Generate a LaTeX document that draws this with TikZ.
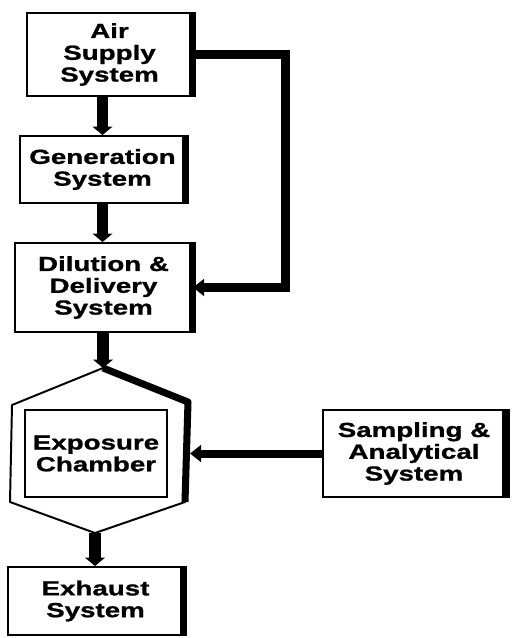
\documentclass[tikz,border=0pt]{standalone}
\usepackage{fontspec}
\newfontfamily\labelfont{Liberation Sans}[FakeStretch=1.36,BoldFeatures={FakeBold=1.1}]
\usetikzlibrary{arrows.meta}

\begin{document}
\begin{tikzpicture}[
    font=\labelfont\bfseries\fontsize{14.5}{15.5}\selectfont,
    unit/.style={draw, line width=1.4pt, align=center, inner sep=0pt},
    flow/.style={line width=8.5pt, -{Triangle[width=14pt,length=6pt]}},
    duct/.style={line width=6.4pt, -{Triangle[width=12pt,length=8pt]}},
    heavy/.style={line width=5pt}]
  \useasboundingbox (0,0) rectangle (12.8,-15.95);
  \node[unit, minimum width=4.125cm, minimum height=2.075cm] (air) at (2.7375,-1.3625) {Air\\Supply\\System};
  \node[unit, minimum width=4.125cm, minimum height=1.675cm] (gen) at (2.5625,-4.2375) {Generation\\System};
  \node[unit, minimum width=4.425cm, minimum height=2.225cm] (dil) at (2.5875,-7.1875) {Dilution \&\\Delivery\\System};
  \node[unit, minimum width=4.55cm, minimum height=2.175cm] (samp) at (10.35,-11.3375) {Sampling \&\\Analytical\\System};
  \node[unit, minimum width=4.375cm, minimum height=1.7cm] (exh) at (2.3875,-15.025) {Exhaust\\System};
  \foreach \n in {air,gen,dil,samp,exh}
    \draw[heavy] (\n.north east) -- (\n.south east);

  \coordinate (chtop) at (2.575,-9.2);
  \coordinate (ur) at (4.7,-10.05);
  \coordinate (lr) at (4.625,-12.55);
  \coordinate (chbot) at (2.375,-13.325);
  \coordinate (ll) at (0.25,-12.55);
  \coordinate (ul) at (0.3,-10.125);
  \coordinate (chport) at (4.75,-11.3375);
  \draw[line width=1.4pt, line join=round] (chtop) -- (ur) -- (lr) -- (chbot) -- (ll) -- (ul) -- cycle;
  \draw[heavy, line join=round] (chtop) -- (ur) -- (lr);
  \node[unit, minimum width=3.55cm, minimum height=2.175cm] (chamber) at (2.4,-11.3375) {Exposure\\Chamber};

  \draw[flow] (gen.north |- air.south) -- (gen.north);
  \draw[flow] (gen.south) -- (gen.south |- dil.north);
  \draw[flow] (dil.south -| chtop) -- (chtop);
  \draw[flow] (chbot) -- (chbot |- exh.north);
  \draw[duct] (air.east) -- ++(2.3125,0) |- (dil.east);
  \draw[line width=5.7pt, -{Triangle[width=12pt,length=8pt]}] (samp.west) -- (samp.west -| chport);
\end{tikzpicture}
\end{document}
